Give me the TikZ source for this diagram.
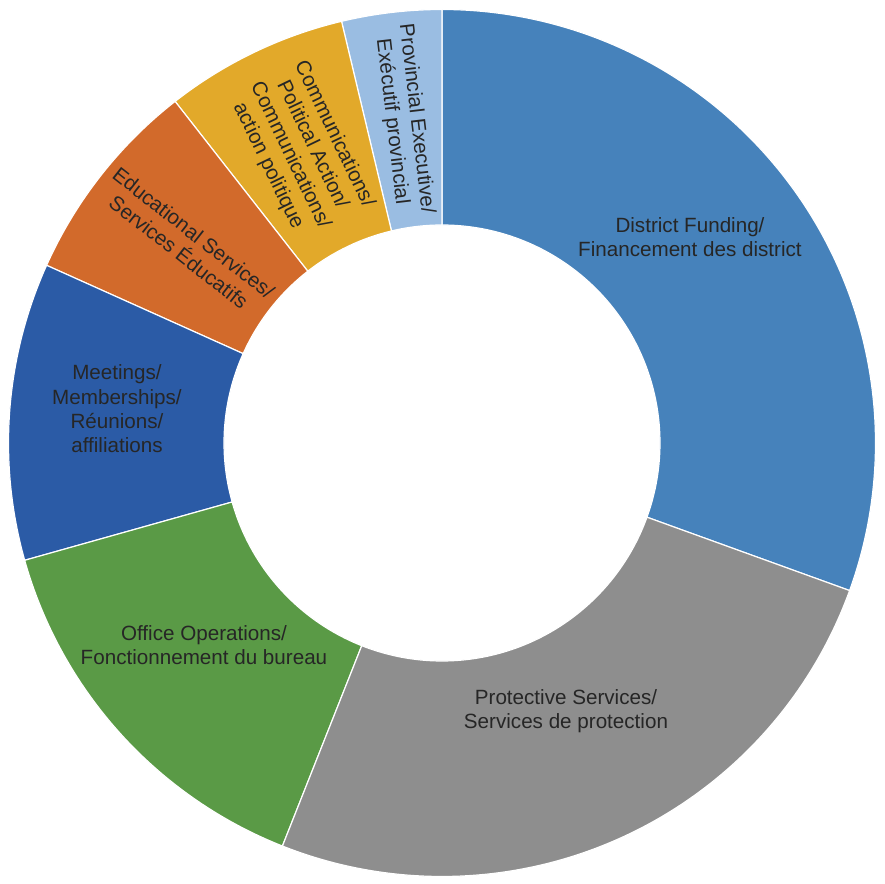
\documentclass[tikz,border=0pt]{standalone}
\usepackage{fontspec}
\setmainfont{Liberation Sans}
\usepackage{tikz}
\usepackage{xcolor}
\definecolor{funding}{HTML}{4682BB}
\definecolor{executive}{HTML}{9ABDE2}
\definecolor{politics}{HTML}{E2A92A}
\definecolor{education}{HTML}{D26A2B}
\definecolor{meetings}{HTML}{2B5BA6}
\definecolor{office}{HTML}{5A9A46}
\definecolor{protective}{HTML}{8E8E8E}
\definecolor{captiontext}{HTML}{262626}
\newcommand{\ring} {
    \tikzset{
        slice/.style={
            draw=white,
            line width=1.2
        },
        slicetext/.style={
            text=captiontext,
            align=center,
            inner sep=0pt,
            font=\fontsize{20.7}{24.5}\selectfont
        }
    }
    \foreach \a/\b/\c in {
        -19.9/90/funding, 90/103.4/executive, 103.4/128/politics,
        128/155.8/education, 155.8/195.7/meetings, 195.7/248.4/office,
        248.4/340.1/protective}
        \filldraw[slice,fill=\c] (\a:433.5) arc (\a:\b:433.5)
            -- (\b:218) arc (\b:\a:218) -- cycle;
}

\begin{document}
\begin{tikzpicture}[x=1bp,y=1bp]
        \useasboundingbox (-442,-441) rectangle (442,443);
        \ring
        % straight captions
        \node[slicetext] (funding) at (248,206)
            {District Funding/\\Financement des district};
        \node[slicetext] (protective) at (124,-268)
            {Protective Services/\\Services de protection};
        \node[slicetext] (office) at (-238,-202)
            {Office Operations/\\Fonctionnement du bureau};
        \node[slicetext] (meetings) at (-325,34)
            {Meetings/\\Memberships/\\Réunions/\\affiliations};
        % turned captions
        \node[slicetext,rotate=-83.3] (executive) at (96.7:325)
            {Provincial Executive/\\Exécutif provincial};
        \node[slicetext,rotate=-64.3] (politics) at (115.7:325)
            {Communications/\\Political Action/\\Communications/\\action politique};
        \node[slicetext,rotate=-38.1] (education) at (141.9:325)
            {Educational Services/\\Services Éducatifs};
    \end{tikzpicture}
\end{document}
